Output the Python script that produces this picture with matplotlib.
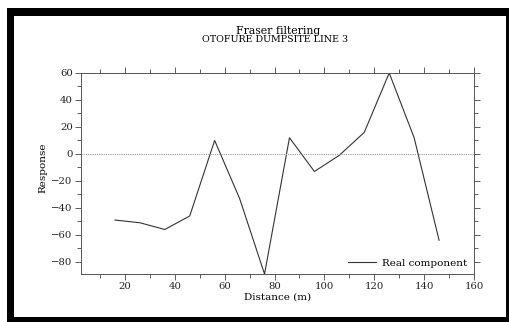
import numpy as np
import matplotlib
matplotlib.use('Agg')
import matplotlib.pyplot as plt
from matplotlib.patches import Rectangle
from matplotlib.ticker import MultipleLocator

# Fraser filtered response along the line
distance = [16, 26, 36, 46, 56, 66, 76, 86, 96, 106, 116, 126, 136, 146]
real_comp = [-49, -51, -56, -46, 10, -33, -89, 12, -13, -1, 16, 60, 12, -64]

W, H = 509, 322
plt.rcParams['font.family'] = ['DejaVu Serif']
fig = plt.figure(figsize=(W / 100, H / 100), dpi=100)

# black frame around the plot area
fig.patches.append(Rectangle((7 / W, 1 - 322 / H), 502 / W, 314 / H,
                             transform=fig.transFigure, facecolor='black',
                             edgecolor='none', zorder=-2))
fig.patches.append(Rectangle((14 / W, 1 - 317 / H), 492 / W, 301 / H,
                             transform=fig.transFigure, facecolor='white',
                             edgecolor='none', zorder=-1))

ax = fig.add_axes([81 / W, 1 - 274 / H, (474 - 81) / W, (274 - 73) / H])
ax.set_zorder(5)
ax.patch.set_alpha(0)

ax.plot(distance, real_comp, color='#333333', lw=0.8, label='Real component')
ax.axhline(0, color='#999999', lw=0.8, ls=(0, (1, 1)))

ax.set_xlim(2.4, 160)
ax.set_ylim(-89, 60)
ax.xaxis.set_major_locator(MultipleLocator(20))
ax.xaxis.set_minor_locator(MultipleLocator(10))
ax.yaxis.set_major_locator(MultipleLocator(20))
ax.yaxis.set_minor_locator(MultipleLocator(10))
ax.tick_params(which='both', direction='out', top=True, right=True,
               labelsize=7.3, width=0.6, color='#444444', labelcolor='#222222')
ax.tick_params(which='major', length=4, pad=2)
ax.tick_params(which='minor', length=3)
for s in ax.spines.values():
    s.set_linewidth(0.7)
    s.set_color('#555555')

ax.set_xlabel('Distance (m)', fontsize=7.5)
ax.set_ylabel('Response', fontsize=7.5)
ax.xaxis.set_label_coords(0.5, -0.09)
ax.yaxis.set_label_coords(-0.085, 0.53)

fig.text(278 / W, 1 - 31 / H, 'Fraser filtering', ha='center', va='center',
         fontsize=7.8, zorder=5)
fig.text(275 / W, 1 - 40 / H, 'OTOFURE DUMPSITE LINE 3', ha='center',
         va='center', fontsize=6.8, zorder=5)

ax.legend(loc='lower right', frameon=False, fontsize=7.5, handlelength=2.7,
          handletextpad=0.6, borderaxespad=0.2)

fig.savefig('out.png', dpi=100)
